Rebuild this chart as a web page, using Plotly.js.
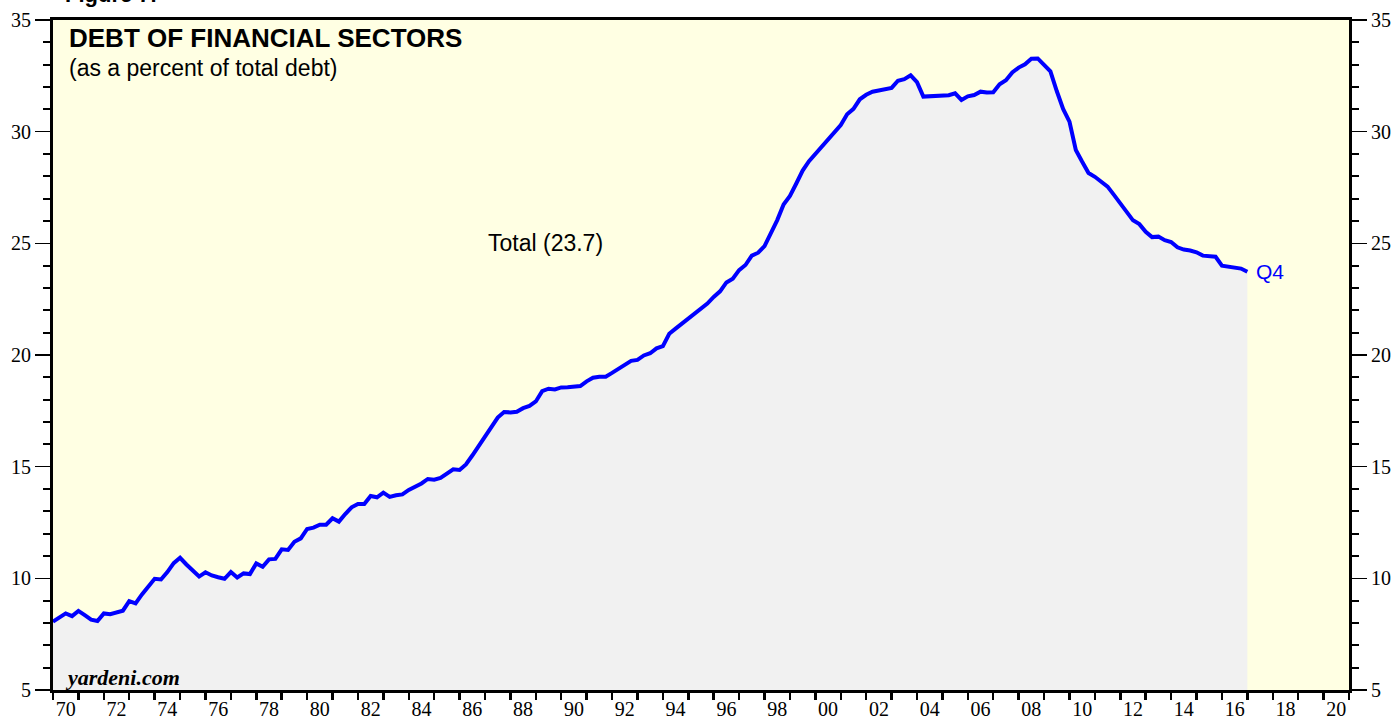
<!DOCTYPE html>
<html>
<head>
<meta charset="utf-8">
<script src="https://cdn.plot.ly/plotly-3.0.1.min.js"></script>
<style>html,body{margin:0;padding:0;background:#fff;}#chart{width:1395px;height:721px;}</style>
</head>
<body>
<div id="chart"></div>
<script>
// Quarterly series, first value = 1969 Q4 (plotted at end of quarter, i.e. 1970.0)
const firstYear = 1969;
const firstQuarter = 4;
const financialShare = [
  8.06, 8.25, 8.43, 8.31, 8.54, 8.35, 8.15, 8.09, 8.43, 8.39, 8.49, 8.55, 8.98, 8.88, 9.28, 9.65,
  9.98, 9.95, 10.28, 10.68, 10.92, 10.62, 10.37, 10.08, 10.27, 10.13, 10.05, 9.98, 10.28, 10.04, 10.22, 10.19,
  10.67, 10.52, 10.85, 10.87, 11.30, 11.27, 11.64, 11.79, 12.21, 12.27, 12.40, 12.40, 12.69, 12.54, 12.88, 13.18,
  13.33, 13.33, 13.69, 13.63, 13.84, 13.65, 13.72, 13.76, 13.96, 14.10, 14.25, 14.45, 14.42, 14.50, 14.70, 14.88,
  14.85, 15.10, 15.50, 15.92, 16.35, 16.80, 17.20, 17.45, 17.43, 17.46, 17.62, 17.72, 17.92, 18.38, 18.49, 18.46,
  18.55, 18.56, 18.60, 18.61, 18.82, 18.98, 19.03, 19.03, 19.20, 19.38, 19.58, 19.74, 19.78, 19.98, 20.08, 20.30,
  20.40, 20.95, 21.18, 21.40, 21.62, 21.83, 22.05, 22.30, 22.60, 22.85, 23.25, 23.42, 23.80, 24.03, 24.45, 24.58,
  24.88, 25.45, 26.04, 26.74, 27.12, 27.68, 28.26, 28.68, 29.00, 29.30, 29.68, 29.98, 30.30, 30.78, 31.02, 31.45,
  31.65, 31.79, 31.84, 31.92, 31.96, 32.28, 32.35, 32.52, 32.22, 31.57, 31.59, 31.60, 31.60, 31.63, 31.72, 31.42,
  31.58, 31.64, 31.79, 31.75, 31.76, 32.12, 32.30, 32.65, 32.87, 33.02, 33.27, 33.28, 32.99, 32.70, 31.82, 31.02,
  30.45, 29.18, 28.65, 28.15, 27.98, 27.75, 27.54, 27.17, 26.77, 26.40, 26.03, 25.86, 25.52, 25.28, 25.30, 25.14,
  25.06, 24.82, 24.72, 24.68, 24.60, 24.45, 24.41, 24.40, 24.00, 23.96, 23.94, 23.87,
  23.73
];
// year boundaries (tick marks)
const yearTicks = [1970,1971,1972,1973,1974,1975,1976,1977,1978,1979,1980,1981,1982,1983,1984,1985,1986,1987,1988,1989,1990,1991,1992,1993,1994,1995,1996,1997,1998,1999,2000,2001,2002,2003,2004,2005,2006,2007,2008,2009,2010,2011,2012,2013,2014,2015,2016,2017,2018,2019,2020,2021];
// labelled years (label centred in the middle of the year)
const labelYears = [1970,1972,1974,1976,1978,1980,1982,1984,1986,1988,1990,1992,1994,1996,1998,2000,2002,2004,2006,2008,2010,2012,2014,2016,2018,2020];
const yearLabels = ['70','72','74','76','78','80','82','84','86','88','90','92','94','96','98','00','02','04','06','08','10','12','14','16','18','20'];
const chartTitle = 'DEBT OF FINANCIAL SECTORS';
const chartSubtitle = '(as a percent of total debt)';
const seriesLabel = 'Total (23.7)';
const lastLabel = 'Q4';

const xVals = financialShare.map((v, i) => firstYear + firstQuarter / 4 + i / 4);
const labelPos = labelYears.map(y => y + 0.5);

const serif = 'Liberation Serif, Times New Roman, serif';
const sans = 'Liberation Sans, Arial, Helvetica, sans-serif';

const trace = {
  x: xVals, y: financialShare, type: 'scatter', mode: 'lines',
  line: {color: '#0000FF', width: 4},
  fill: 'tozeroy', fillcolor: '#F1F1F1',
  hoverinfo: 'skip', showlegend: false
};
const helperTrace = {
  x: xVals, y: financialShare, type: 'scatter', mode: 'lines', xaxis: 'x2', yaxis: 'y2',
  line: {color: 'rgba(0,0,0,0)', width: 0}, hoverinfo: 'skip', showlegend: false
};

const yCommon = {
  range: [5, 35], dtick: 5, tick0: 5, ticks: 'outside', ticklen: 15, tickwidth: 1.5, tickcolor: '#000',
  minor: {dtick: 1, ticks: 'outside', ticklen: 7, tickwidth: 2, tickcolor: '#000', showgrid: false},
  showline: true, linewidth: 3, linecolor: '#000', showgrid: false, zeroline: false,
  tickfont: {family: serif, size: 20, color: '#000'}, fixedrange: true
};

const layout = {
  width: 1395, height: 721,
  margin: {l: 53, r: 46, t: 20, b: 31, pad: 0},
  paper_bgcolor: '#FFFFFF', plot_bgcolor: '#FFFFE3',
  showlegend: false,
  xaxis: {
    range: [1970, 2021], tickmode: 'array', tickvals: yearTicks, showticklabels: false,
    ticks: 'outside', ticklen: 7, tickwidth: 2.5, tickcolor: '#000',
    showline: true, linewidth: 3, linecolor: '#000', mirror: true,
    showgrid: false, zeroline: false, fixedrange: true
  },
  xaxis2: {
    range: [1970, 2021], overlaying: 'x', anchor: 'y', side: 'bottom',
    tickmode: 'array', tickvals: labelPos, ticktext: yearLabels,
    ticks: 'outside', ticklen: 1, tickcolor: 'rgba(0,0,0,0)',
    showline: false, showgrid: false, zeroline: false,
    tickfont: {family: serif, size: 20, color: '#000'}, fixedrange: true
  },
  yaxis: Object.assign({}, yCommon, {side: 'left'}),
  yaxis2: Object.assign({}, yCommon, {side: 'right', overlaying: 'y', anchor: 'x'}),
  annotations: [
    {xref: 'paper', yref: 'paper', x: 0.0105, y: 0.973, xanchor: 'left', yanchor: 'middle', showarrow: false,
     text: '<b>' + chartTitle + '</b>', font: {family: sans, size: 26, color: '#000'}},
    {xref: 'paper', yref: 'paper', x: 0.0105, y: 0.929, xanchor: 'left', yanchor: 'middle', showarrow: false,
     text: chartSubtitle, font: {family: sans, size: 23, color: '#000'}},
    {xref: 'x', yref: 'y', x: 1989.4, y: 25.0, xanchor: 'center', yanchor: 'middle', showarrow: false,
     text: seriesLabel, font: {family: sans, size: 23, color: '#000'}},
    {xref: 'x', yref: 'y', x: 2017.25, y: 23.72, xanchor: 'left', yanchor: 'middle', showarrow: false,
     text: lastLabel, font: {family: sans, size: 21, color: '#0000FF'}},
    {xref: 'paper', yref: 'paper', x: 0.008, y: 0.019, xanchor: 'left', yanchor: 'middle', showarrow: false,
     text: '<b><i>yardeni.com</i></b>', font: {family: serif, size: 22, color: '#000'}},
    {xref: 'paper', yref: 'paper', x: 0.008, y: 1.016, xanchor: 'left', yanchor: 'bottom', showarrow: false,
     text: '<b>Figure 7.</b>', font: {family: sans, size: 22, color: '#000'}}
  ]
};

Plotly.newPlot('chart', [trace, helperTrace], layout, {displayModeBar: false, staticPlot: true});
</script>
</body>
</html>
